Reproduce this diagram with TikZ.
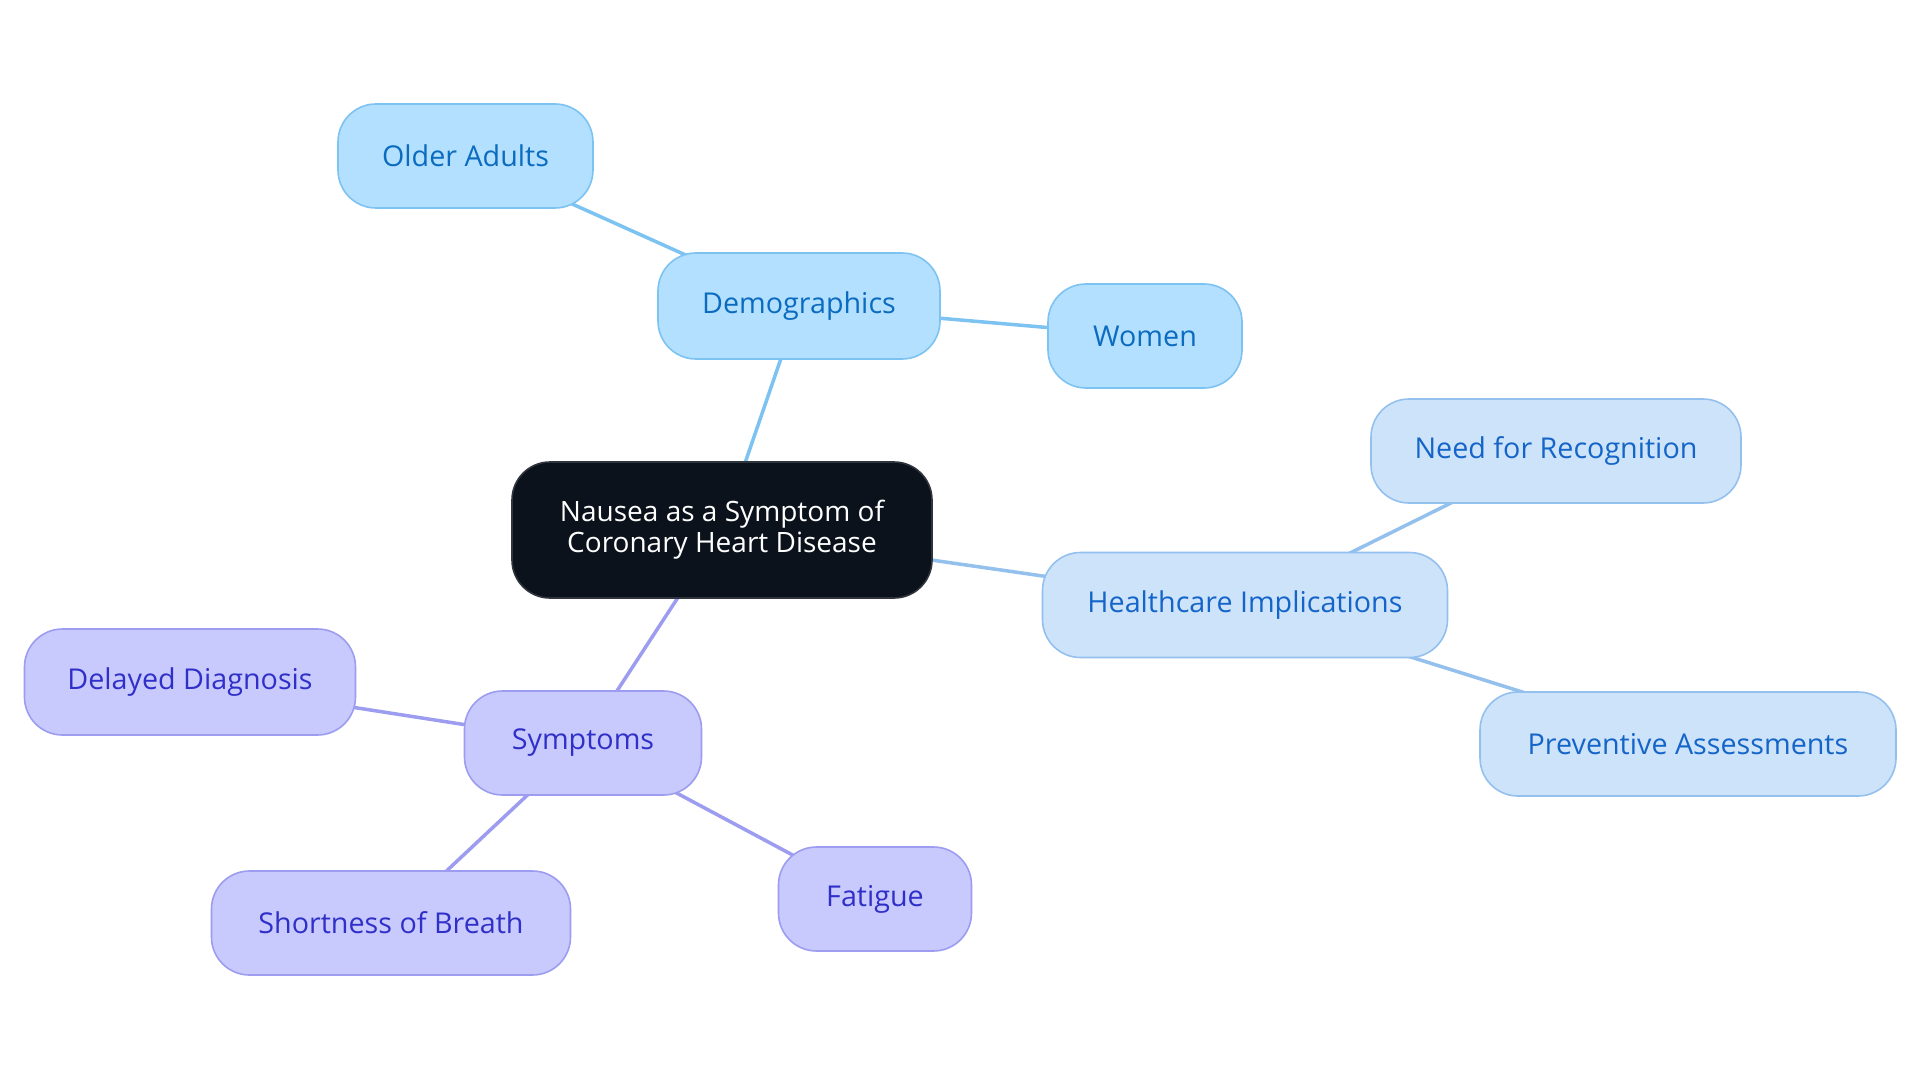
\documentclass[tikz,border=0pt]{standalone}
\usepackage{fontspec}
\setmainfont{Open Sans}
\usetikzlibrary{backgrounds}
\definecolor{demofill}{HTML}{B3E0FF}
\definecolor{demoline}{HTML}{7DC3F2}
\definecolor{demotext}{HTML}{0B6BBF}
\definecolor{hcfill}{HTML}{CDE3FA}
\definecolor{hcline}{HTML}{94C0EE}
\definecolor{hctext}{HTML}{1565C8}
\definecolor{syfill}{HTML}{C8CAFD}
\definecolor{syline}{HTML}{9C9CF0}
\definecolor{sytext}{HTML}{3030C8}
\definecolor{cfill}{HTML}{0B121C}
\definecolor{cline}{HTML}{30343C}
\begin{document}
\begin{tikzpicture}[x=1pt,y=-1pt,
  base/.style={rounded corners=38pt, line width=1.6pt, inner sep=0pt,
    font=\fontsize{28.7}{31}\selectfont, minimum height=104pt, align=center},
  demo/.style={base, fill=demofill, draw=demoline, text=demotext},
  hc/.style={base, fill=hcfill, draw=hcline, text=hctext},
  sy/.style={base, fill=syfill, draw=syline, text=sytext},
  central/.style={base, fill=cfill, draw=cline, text=white, minimum height=136pt,
    font=\fontsize{28}{31}\selectfont},
  edemo/.style={draw=demoline, line width=3.5pt},
  ehc/.style={draw=hcline, line width=3.5pt},
  esy/.style={draw=syline, line width=3.5pt}]
\useasboundingbox (0,0) rectangle (1920,1083);
% nodes
\node[central, minimum width=420pt] (c) at (722,530) {Nausea as a Symptom of\\Coronary Heart Disease};
\node[demo, minimum width=282pt, minimum height=106pt] (demo) at (799,306) {Demographics};
\node[demo, minimum width=255pt] (old) at (465.5,156) {Older Adults};
\node[demo, minimum width=194pt] (women) at (1145,336) {Women};
\node[hc, minimum width=405pt, minimum height=105pt] (hc) at (1245,605) {Healthcare Implications};
\node[hc, minimum width=370pt] (need) at (1556,451) {Need for Recognition};
\node[hc, minimum width=416pt] (prev) at (1688,744) {Preventive Assessments};
\node[sy, minimum width=237pt] (sy) at (583,743) {Symptoms};
\node[sy, minimum width=331pt, minimum height=106pt] (del) at (190,682) {Delayed Diagnosis};
\node[sy, minimum width=359pt] (sob) at (391,923) {Shortness of Breath};
\node[sy, minimum width=193pt] (fat) at (875,899) {Fatigue};
% connectors
\begin{scope}[on background layer]
\fill[white] (0,0) rectangle (1920,1083);
\draw[edemo] (c.center) -- (demo.center);
\draw[edemo] (demo.center) -- (old.center);
\draw[edemo] (demo.center) -- (women.center);
\draw[ehc] (c.center) -- (hc.center);
\draw[ehc] (hc.center) -- (need.center);
\draw[ehc] (hc.center) -- (prev.center);
\draw[esy] (c.center) -- (sy.center);
\draw[esy] (sy.center) -- (del.center);
\draw[esy] (sy.center) -- (sob.center);
\draw[esy] (sy.center) -- (fat.center);
\end{scope}
\end{tikzpicture}
\end{document}
